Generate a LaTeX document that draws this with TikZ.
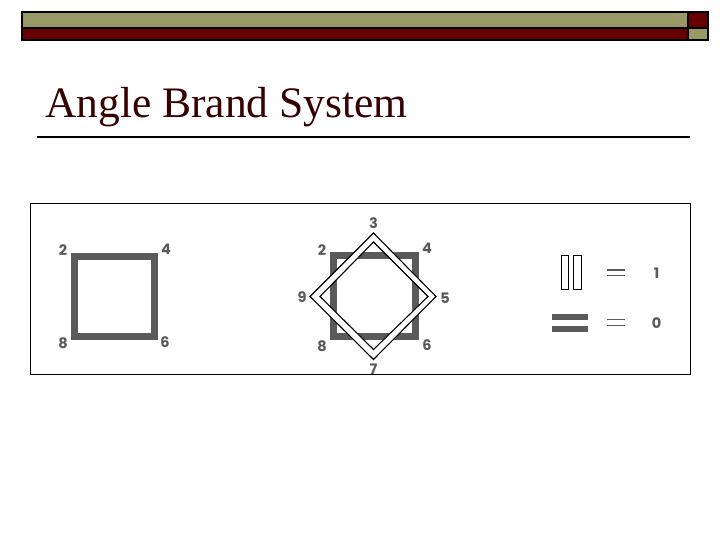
\documentclass[tikz,border=0pt]{standalone}
\usepackage{fontspec}
\setmainfont{Liberation Serif}
\newfontfamily\numfont{Poppins}[UprightFont=* Bold]
\usepackage{tikz}
\usetikzlibrary{positioning}
\definecolor{olivebar}{RGB}{153, 153, 102}
\definecolor{darkred}{RGB}{102, 0, 0}
\definecolor{titlered}{RGB}{55, 0, 0}
\definecolor{brandgray}{RGB}{90, 90, 90}

\tikzset{
  numlabel/.style={font=\numfont\fontsize{14.5}{14.5}\selectfont, text=brandgray, inner sep=0pt},
  brandline/.style={draw=brandgray, line width=7pt},
  diamondline/.style={draw=black, line width=1.1pt},
  equalline/.style={draw=brandgray, line width=1.3pt}
}

\begin{document}
\begin{tikzpicture}[x=1pt, y=-1pt]
            \useasboundingbox (0,0) rectangle (720,540);
            \fill[white] (0,0) rectangle (720,540);

            % Header bars
            \draw[fill=olivebar, line width=1.5pt] (22,12) rectangle (688,28);
            \draw[fill=darkred, line width=1.5pt] (688,12) rectangle (708,28);
            \draw[fill=darkred, line width=1.5pt] (22,28) rectangle (688,40);
            \draw[fill=olivebar, line width=1.5pt] (688,28) rectangle (708,40);

            % Title
            \node[anchor=base west, inner sep=0pt, text=titlered, font=\fontsize{43.5}{50}\selectfont] (title) at (45,118) {Angle Brand System};
            \draw[line width=1.5pt] (37,137) -- (690,137);

            % Picture frame
            \draw[line width=0.8pt] (30,203) rectangle (690,374);

            % Plain square brand
            \draw[brandline] (74,256) rectangle (154,336);
            \node[numlabel] (sqtwo) at (63,250) {2};
            \node[numlabel] (sqfour) at (166,249) {4};
            \node[numlabel] (sqeight) at (63,343) {8};
            \node[numlabel] (sqsix) at (165,342) {6};

            % Square with diamond
            \draw[brandline] (333,255) rectangle (415,336);
            \fill[white, even odd rule] (373.5,233) -- (436,296.5) -- (373.5,359.5) -- (310,296.5) -- cycle
                (373.5,242) -- (428,296.5) -- (373.5,349.5) -- (320,296.5) -- cycle;
            \draw[diamondline] (373.5,233) -- (436,296.5) -- (373.5,359.5) -- (310,296.5) -- cycle;
            \draw[diamondline] (373.5,242) -- (428,296.5) -- (373.5,349.5) -- (320,296.5) -- cycle;
            \node[numlabel] (dmthree) at (373.5,223) {3};
            \node[numlabel] (dmtwo) at (322,250) {2};
            \node[numlabel] (dmfour) at (427,248) {4};
            \node[numlabel] (dmnine) at (302,297) {9};
            \node[numlabel] (dmfive) at (445,298) {5};
            \node[numlabel] (dmeight) at (322,346) {8};
            \node[numlabel] (dmsix) at (427,345) {6};
            \node[numlabel] (dmseven) at (373.5,369) {7};

            % Key: one and zero
            \draw[line width=1pt] (561,255) rectangle (568.5,289.5);
            \draw[line width=1pt] (573.5,255) rectangle (581.5,289.5);
            \draw[equalline] (607,270) -- (625,270);
            \draw[equalline] (607,275.5) -- (625,275.5);
            \node[numlabel] (keyone) at (656.5,273) {1};

            \fill[brandgray] (552,313.5) rectangle (588,319.5);
            \fill[brandgray] (552,326) rectangle (588,332);
            \draw[equalline] (607,319.5) -- (625,319.5);
            \draw[equalline] (607,325.5) -- (625,325.5);
            \node[numlabel] (keyzero) at (656.5,323) {0};
\end{tikzpicture}
\end{document}
